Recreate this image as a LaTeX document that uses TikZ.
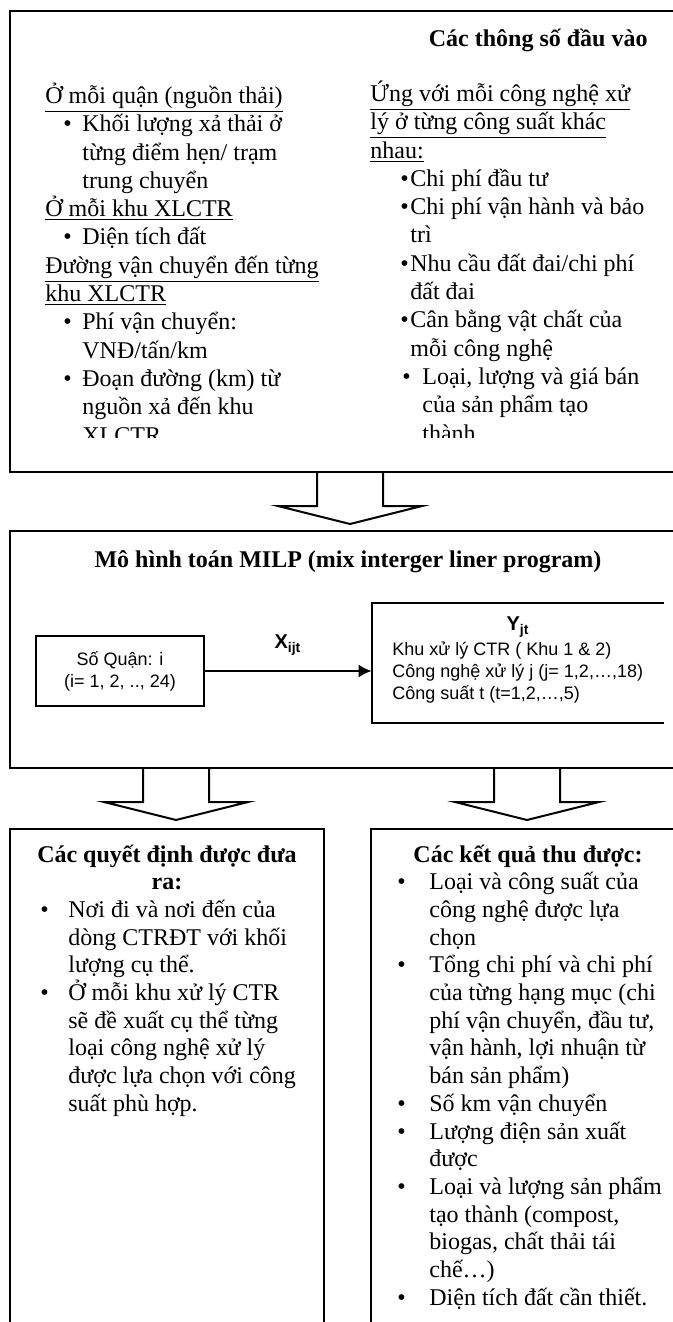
\documentclass[tikz,border=0pt]{standalone}
\usepackage{fontspec}
\setmainfont{Liberation Serif}
\newfontfamily\arialfont{Liberation Sans}
\usetikzlibrary{arrows.meta,positioning}
\newcommand{\bul}[2]{\hspace*{#1}\makebox[#2][l]{•}}
\newcommand{\ind}[1]{\hspace*{#1}}
\newcommand{\tightlines}{\lineskiplimit -20pt\relax}
\tikzset{
  frame/.style={draw, line width=1pt},
  topcol/.style={inner sep=0pt, align=left, font=\fontsize{12}{14.15}\selectfont\tightlines},
  botcol/.style={inner sep=0pt, align=left, font=\fontsize{12}{13.85}\selectfont\tightlines},
  bottitle/.style={inner sep=0pt, align=center, font=\fontsize{12}{13.85}\selectfont\bfseries\tightlines},
  modelbox/.style={draw, line width=1pt, inner sep=0pt, align=center, font=\arialfont\fontsize{9}{11}\selectfont},
  modeltext/.style={inner sep=0pt, align=left, font=\arialfont\fontsize{9}{11}\selectfont\tightlines},
  varlab/.style={inner sep=0pt, font=\arialfont\bfseries\fontsize{10}{12}\selectfont},
  bigarrow/.pic={\draw[line width=1pt, line join=miter] (-33,0) -- (-33,34) -- (-72,34) -- (0,52) -- (72,34) -- (33,34) -- (33,0);}
}
\begin{document}
\begin{tikzpicture}[x=0.5pt, y=-0.5pt, >={Latex[length=6.5pt,width=6.5pt]}]
\useasboundingbox (0,0) rectangle (673,1322);
\clip (0,0) rectangle (673,1322);
\draw[frame] (10,11) rectangle (690,472);
\node[anchor=base east, inner sep=0pt, font=\fontsize{12}{14}\selectfont\bfseries] (intitle) at (648,47) {Các thông số đầu vào};
\begin{scope}
\clip (0,0) rectangle (673,437);
% base anchor = baseline of the last line
\node[topcol, anchor=base west] (inleft) at (45,443) {\underline{Ở mỗi quận (nguồn thải)}\\
\bul{9pt}{9.5pt}Khối lượng xả thải ở\\
\ind{18.5pt}từng điểm hẹn/ trạm\\
\ind{18.5pt}trung chuyển\\
\underline{Ở mỗi khu XLCTR}\\
\bul{9pt}{9.5pt}Diện tích đất\\
\underline{Đường vận chuyển đến từng}\\
\underline{khu XLCTR}\\
\bul{9pt}{9.5pt}Phí vận chuyển:\\
\ind{18.5pt}VNĐ/tấn/km\\
\bul{9pt}{9.5pt}Đoạn đường (km) từ\\
\ind{18.5pt}nguồn xả đến khu\\
\ind{18.5pt}XLCTR};
\node[topcol, anchor=base west] (inright) at (370,441) {\underline{Ứng với mỗi công nghệ xử}\\
\underline{lý ở từng công suất khác}\\
\underline{nhau:}\\
\bul{15pt}{5pt}Chi phí đầu tư\\
\bul{15pt}{5pt}Chi phí vận hành và bảo\\
\ind{20pt}trì\\
\bul{15pt}{5pt}Nhu cầu đất đai/chi phí\\
\ind{20pt}đất đai\\
\bul{15pt}{5pt}Cân bằng vật chất của\\
\ind{20pt}mỗi công nghệ\\
\bul{16pt}{10pt}Loại, lượng và giá bán\\
\ind{26pt}của sản phẩm tạo\\
\ind{26pt}thành};
\end{scope}
\pic at (350,472) {bigarrow};
\draw[frame] (10,531) rectangle (690,768);
\node[anchor=base, inner sep=0pt, font=\fontsize{12}{14}\selectfont\bfseries] (mtitle) at (348,567) {Mô hình toán MILP (mix interger liner program)};
\node[modelbox, minimum width=84pt, minimum height=35pt] (quan) at (120,671) {Số Quận: i\\(i= 1, 2, .., 24)};
\node[inner sep=0pt, minimum width=146pt, minimum height=60pt] (yblk) at (518,663) {};
\draw[line width=1pt] (yblk.north east) -- (yblk.north west) -- (yblk.south west) -- (yblk.south east);
\node[varlab] (ylab) at (518,627) {Y\textsubscript{jt}};
\node[modeltext, anchor=base west] (ytxt) at (392,699) {Khu xử lý CTR ( Khu 1 \& 2)\\Công nghệ xử lý j (j= 1,2,…,18)\\Công suất t (t=1,2,…,5)};
\node[varlab] (xlab) at (288,645) {X\textsubscript{ijt}};
\draw[line width=1pt, ->] (quan.east) -- (quan.east -| yblk.west);
\pic at (176,768) {bigarrow};
\pic at (527,768) {bigarrow};
\draw[frame] (10,829) rectangle (324,1340);
\draw[frame] (371,829) rectangle (690,1340);
\node[bottitle, anchor=base] (dectitle) at (167,889.7) {Các quyết định được đưa\\ra:};
\node[botcol, anchor=base west] (declist) at (40,1111.3) {\bul{0pt}{14pt}Nơi đi và nơi đến của\\
\ind{14pt}dòng CTRĐT với khối\\
\ind{14pt}lượng cụ thể.\\
\bul{0pt}{14pt}Ở mỗi khu xử lý CTR\\
\ind{14pt}sẽ đề xuất cụ thể từng\\
\ind{14pt}loại công nghệ xử lý\\
\ind{14pt}được lựa chọn với công\\
\ind{14pt}suất phù hợp.};
\node[bottitle, anchor=base] (restitle) at (528,862) {Các kết quả thu được:};
\node[botcol, anchor=base west] (reslist) at (397,1305.2) {\bul{0pt}{16pt}Loại và công suất của\\
\ind{16pt}công nghệ được lựa\\
\ind{16pt}chọn\\
\bul{0pt}{16pt}Tổng chi phí và chi phí\\
\ind{16pt}của từng hạng mục (chi\\
\ind{16pt}phí vận chuyển, đầu tư,\\
\ind{16pt}vận hành, lợi nhuận từ\\
\ind{16pt}bán sản phẩm)\\
\bul{0pt}{16pt}Số km vận chuyển\\
\bul{0pt}{16pt}Lượng điện sản xuất\\
\ind{16pt}được\\
\bul{0pt}{16pt}Loại và lượng sản phẩm\\
\ind{16pt}tạo thành (compost,\\
\ind{16pt}biogas, chất thải tái\\
\ind{16pt}chế…)\\
\bul{0pt}{16pt}Diện tích đất cần thiết.};
\end{tikzpicture}
\end{document}
